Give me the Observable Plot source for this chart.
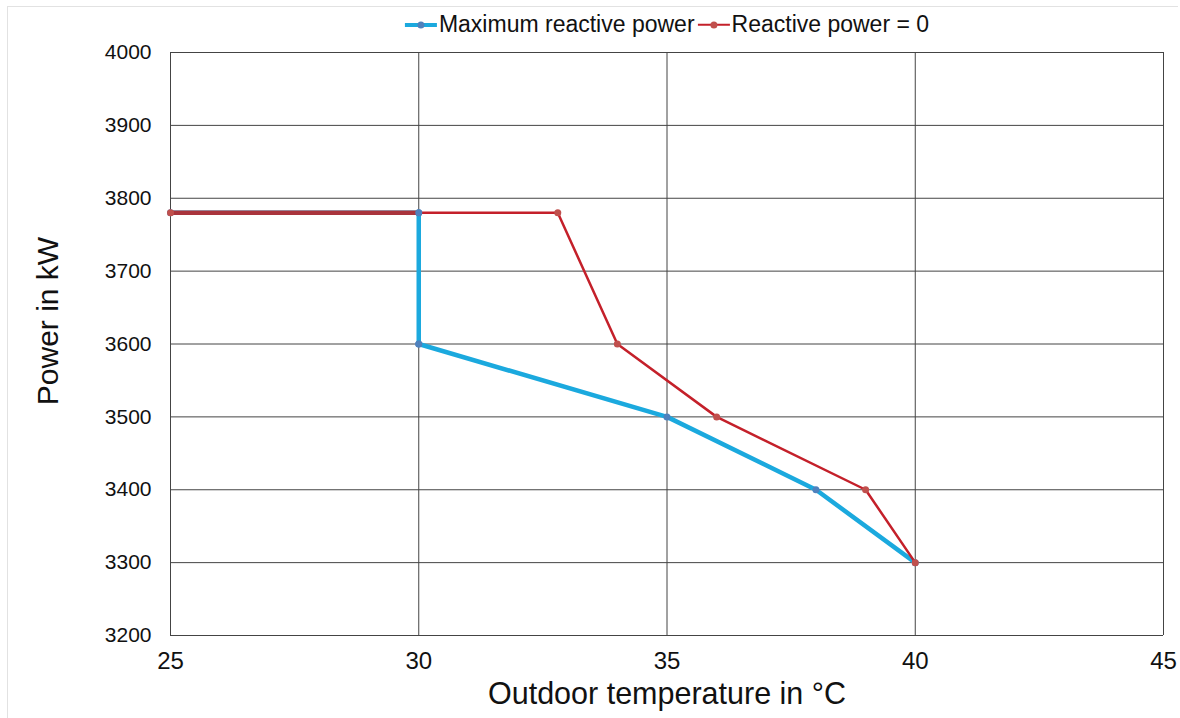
<!DOCTYPE html>
<html>
<head>
<meta charset="utf-8">
<script src="https://cdn.jsdelivr.net/npm/d3@7"></script>
<script src="https://cdn.jsdelivr.net/npm/@observablehq/plot@0.6"></script>
<style>
  html, body { margin: 0; padding: 0; background: #fff; }
  #wrap { position: relative; width: 1180px; height: 718px; font-family: "Liberation Sans", Arial, sans-serif; }
  #frame { position: absolute; left: 7px; top: 6px; width: 1170px; height: 740px; border: 1px solid #e2e2e2; border-bottom: none; border-right: none; pointer-events: none; }
  #legend { position: absolute; top: 11px; left: 667px; transform: translateX(-50%); display: flex; align-items: center; font-size: 23px; color: #111; white-space: nowrap; font-family: "Liberation Sans", Arial, sans-serif; }
  .item { display: flex; align-items: center; }
  .sw { position: relative; width: 32px; height: 10px; margin-right: 2px; }
  .sw .ln { position: absolute; left: 0; right: 0; top: 50%; transform: translateY(-50%); }
  .sw .dt { position: absolute; left: 50%; top: 50%; width: 7px; height: 7px; border-radius: 50%; transform: translate(-50%, -50%); }
</style>
</head>
<body>
<div id="wrap">
  <div id="frame"></div>
  <div id="legend"></div>
  <div id="chart"></div>
</div>
<script>
// Data
const seriesNames = ["Maximum reactive power", "Reactive power = 0"];
const maxTemp  = [25, 30, 30, 35, 38, 40];
const maxPower = [3780, 3780, 3600, 3500, 3400, 3300];
const zeroTemp  = [25, 30, 32.8, 34, 36, 39, 40];
const zeroPower = [3780, 3780, 3780, 3600, 3500, 3400, 3300];
const xTicks = [25, 30, 35, 40, 45];
const yTicks = [3200, 3300, 3400, 3500, 3600, 3700, 3800, 3900, 4000];

const blue = "#1ba9de", blueDot = "#4f81bd";
const red = "#c4202a", redDot = "#c0504d";
const overlap = "#a9343c";

const maxData = maxTemp.map((t, i) => ({t, p: maxPower[i]}));
const zeroData = zeroTemp.map((t, i) => ({t, p: zeroPower[i]}));

// segments shared by both series (drawn where the two lines coincide)
const segs = arr => arr.slice(1).map((d, i) => ({x1: arr[i].t, y1: arr[i].p, x2: d.t, y2: d.p}));
const zeroSegs = segs(zeroData);
const shared = segs(maxData).filter(a => zeroSegs.some(b => a.x1 === b.x1 && a.y1 === b.y1 && a.x2 === b.x2 && a.y2 === b.y2));

// Legend
const legend = document.getElementById("legend");
[[seriesNames[0], blue, blueDot, 4], [seriesNames[1], red, redDot, 2.5]].forEach(([name, c, dc, w], i) => {
  const it = document.createElement("div");
  it.className = "item";
  it.style.marginRight = i === 0 ? "3px" : "0";
  it.innerHTML = `<div class="sw"><div class="ln" style="height:${w}px;background:${c}"></div><div class="dt" style="background:${dc}"></div></div><span>${name}</span>`;
  legend.appendChild(it);
});

const chart = Plot.plot({
  width: 1180,
  height: 718,
  marginLeft: 170,
  marginRight: 17,
  marginTop: 52,
  marginBottom: 83,
  style: { fontFamily: "'Liberation Sans', Arial, sans-serif", background: "transparent", overflow: "visible" },
  x: { domain: [25, 45], ticks: xTicks, label: null },
  y: { domain: [3200, 4000], ticks: yTicks, label: null },
  marks: [
    Plot.gridX(xTicks, { stroke: "#444", strokeOpacity: 1, strokeWidth: 1 }),
    Plot.gridY(yTicks, { stroke: "#444", strokeOpacity: 1, strokeWidth: 1 }),
    Plot.ruleX([25], { stroke: "#444" }),
    Plot.ruleY([3200], { stroke: "#444" }),
    Plot.axisY({ ticks: yTicks, tickSize: 0, tickPadding: 19, fontSize: 21, fill: "#111", label: null, tickFormat: d => String(d) }),
    Plot.axisX({ ticks: xTicks, tickSize: 0, tickPadding: 16, fontSize: 24, fill: "#111", label: null, tickFormat: d => String(d) }),
    Plot.text(["Outdoor temperature in °C"], { frameAnchor: "bottom", dy: 68, fontSize: 30.5, fill: "#111" }),
    Plot.text(["Power in kW"], { frameAnchor: "left", textAnchor: "middle", dx: -122, dy: -23, rotate: -90, fontSize: 30, fill: "#111" }),
    Plot.line(maxData, { x: "t", y: "p", stroke: blue, strokeWidth: 4.5 }),
    Plot.dot(maxData, { x: "t", y: "p", r: 3.5, fill: blueDot }),
    Plot.line(zeroData, { x: "t", y: "p", stroke: red, strokeWidth: 2.5 }),
    Plot.link(shared, { x1: "x1", y1: "y1", x2: "x2", y2: "y2", stroke: overlap, strokeWidth: 4.5 }),
    Plot.dot(zeroData.filter(d => !maxData.some(m => m.t === d.t && m.p === d.p) || d.t === 25 || d.t === 40), { x: "t", y: "p", r: 3.5, fill: redDot }),
    Plot.dot(maxData.filter(d => d.t === 30), { x: "t", y: "p", r: 3.5, fill: blueDot })
  ]
});
document.getElementById("chart").appendChild(chart);
</script>
</body>
</html>
